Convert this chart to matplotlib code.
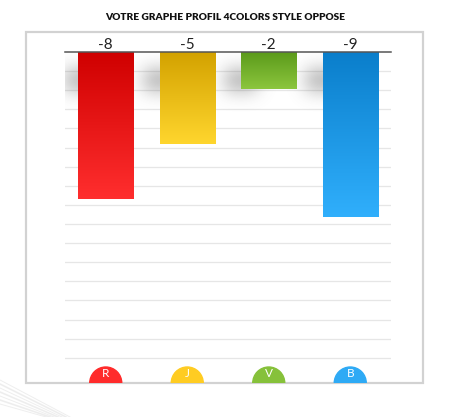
import matplotlib
matplotlib.use("Agg")
import matplotlib.pyplot as plt
import numpy as np
from matplotlib.colors import LinearSegmentedColormap
from matplotlib.patches import Ellipse, Rectangle
from matplotlib.lines import Line2D

# data
categories = ["R", "J", "V", "B"]
values = [-8, -5, -2, -9]
top_colors = ["#cf0000", "#d3a200", "#5b9a1a", "#0a7ecb"]
bottom_colors = ["#ff2e2e", "#ffd62e", "#8cc63e", "#30affc"]
badge_colors = ["#ff2b2b", "#ffcc22", "#86c13a", "#2eaaf5"]
title = "VOTRE GRAPHE PROFIL 4COLORS STYLE OPPOSE"

W, H = 450, 417
fig = plt.figure(figsize=(W / 100, H / 100), dpi=100)
fig.patch.set_facecolor("white")

# faint sketch strokes in the lower left corner
for i in range(7):
    off = i * 4
    fig.add_artist(Line2D([0, (70 - off) / W], [1 - (380 + off) / H, 0],
                          transform=fig.transFigure, color="#dddddd",
                          linewidth=1.2 if i % 2 else 0.7, alpha=0.5, zorder=-2))

# outer frame
fig.add_artist(Rectangle((26 / W, 1 - 383 / H), 397 / W, 351 / H,
                         transform=fig.transFigure, facecolor="none",
                         edgecolor="#d2d2d2", linewidth=1.6, zorder=-1))

fig.text(0.5, 1 - 17 / H, title, ha="center", va="center",
         fontsize=7.3, fontweight="heavy", family="Lato", color="#111111")

ax = fig.add_axes([65 / W, 1 - 383 / H, 326 / W, 331 / H])
ax.set_xlim(-0.5, 3.5)
ax.set_ylim(-18, 0)
ax.axis("off")

# grid lines
for gy in np.linspace(0, -16.63, 17)[1:]:
    ax.axhline(gy, color="#e6e6e6", linewidth=0.9, zorder=0)

x = np.arange(len(values))
width = 0.675

# soft shadows on the left of the bars
nx, ny = 326, 331
gx = np.linspace(-0.5, 3.5, nx)
gy_ = np.linspace(0, -18, ny)
XX, YY = np.meshgrid(gx, gy_)
mask = np.zeros_like(XX)
for xi in x:
    left = xi - width / 2
    mask += ((XX > left - 0.2) & (XX < left + 0.2) & (YY < -0.9) & (YY > -2.1)).astype(float)
sig = 9
k = np.exp(-0.5 * (np.arange(-3 * sig, 3 * sig + 1) / sig) ** 2)
k /= k.sum()
mask = np.apply_along_axis(lambda r: np.convolve(r, k, mode="same"), 1, mask)
mask = np.apply_along_axis(lambda c: np.convolve(c, k, mode="same"), 0, mask)
shadow = np.zeros((ny, nx, 4))
shadow[..., :3] = 0.4
shadow[..., 3] = np.clip(mask, 0, 1) * 0.5
ax.imshow(shadow, extent=(-0.5, 3.5, -18, 0), origin="upper", aspect="auto",
          zorder=1, interpolation="bilinear")

bars = ax.bar(x, values, width=width, color="none", zorder=2)
grad = np.linspace(0, 1, 256).reshape(-1, 1)
for b, c0, c1 in zip(bars, top_colors, bottom_colors):
    cmap = LinearSegmentedColormap.from_list("g", [c0, c1])
    x0, x1 = b.get_x(), b.get_x() + b.get_width()
    ax.imshow(grad, cmap=cmap, extent=(x0, x1, b.get_height(), 0),
              origin="upper", aspect="auto", zorder=3)

ax.set_xlim(-0.5, 3.5)
ax.set_ylim(-18, 0)

# top axis line
ax.plot([-0.5, 3.5], [0, 0], color="#555555", linewidth=1.1, zorder=4, clip_on=False)

for xi, v in zip(x, values):
    ax.text(xi, 0.0, str(v), ha="center", va="bottom", fontsize=11,
            family="Lato", color="#222222", zorder=5)

# badges at the bottom
for xi, lab, c in zip(x, categories, badge_colors):
    ax.add_patch(Ellipse((xi, -18), 32 / 81.5, 32 / 18.39, color=c, zorder=4))
    ax.text(xi, -17.5, lab, ha="center", va="center", fontsize=8.5,
            family="Lato", color="white", zorder=5)

fig.savefig("out.png", dpi=100, facecolor="white")
